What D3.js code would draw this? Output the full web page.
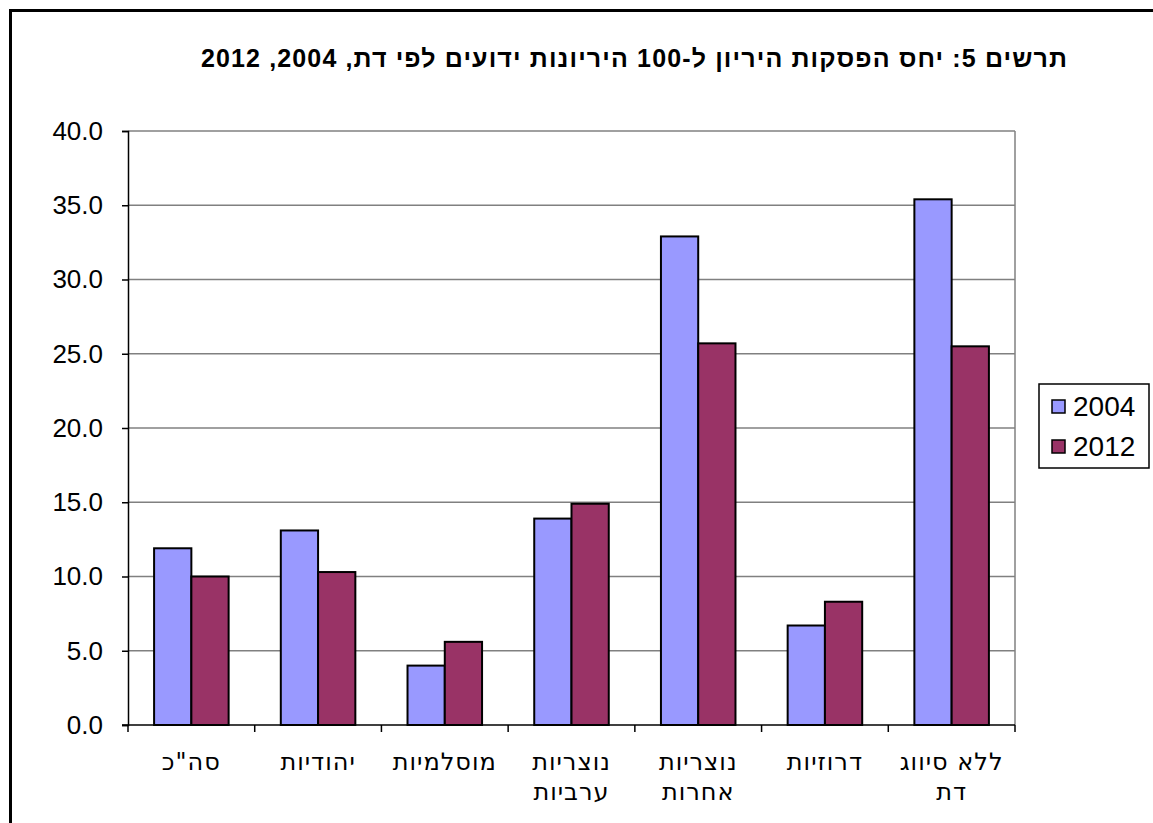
<!DOCTYPE html>
<html lang="he">
<head>
<meta charset="utf-8">
<script src="https://cdn.jsdelivr.net/npm/d3@7/dist/d3.min.js"></script>
<style>
  html, body { margin: 0; padding: 0; background: #fff; }
  svg { display: block; }
</style>
</head>
<body>
<svg id="chart" width="1153" height="823"></svg>
<script>
// נתונים: יחס הפסקות היריון ל-100 היריונות ידועים לפי דת
const CATEGORIES = [["סה\"כ"], ["יהודיות"], ["מוסלמיות"], ["נוצריות", "ערביות"], ["נוצריות", "אחרות"], ["דרוזיות"], ["ללא סיווג", "דת"]];
const SERIES = ["2004", "2012"];
const VALUES_2004 = [11.9, 13.1, 4.0, 13.9, 32.9, 6.7, 35.4];
const VALUES_2012 = [10.0, 10.3, 5.6, 14.9, 25.7, 8.3, 25.5];
const Y_TICKS = [0, 5, 10, 15, 20, 25, 30, 35, 40];
const COLORS = ["#9999FF", "#993366"];
const TITLE = "תרשים 5: יחס הפסקות היריון ל-100 היריונות ידועים לפי דת, 2004, 2012";

const svg = d3.select("#chart");
const W = 1153, H = 823;
const plot = { left: 128, right: 1015, top: 131, bottom: 725 };

// מסגרת חיצונית
svg.append("path")
  .attr("d", `M10.5,${H + 5} L10.5,10.5 L${W + 5},10.5`)
  .attr("fill", "none").attr("stroke", "#000").attr("stroke-width", 3);

// כותרת
svg.append("text")
  .attr("x", 634).attr("y", 67)
  .attr("text-anchor", "middle")
  .attr("direction", "rtl")
  .attr("font-family", "Liberation Sans, Arial, sans-serif")
  .attr("font-weight", "bold").attr("font-size", 25)
  .attr("textLength", 866).attr("lengthAdjust", "spacing")
  .text(TITLE);

const x = d3.scaleBand().domain(d3.range(CATEGORIES.length)).range([plot.left, plot.right]);
const xs = d3.scaleBand().domain(SERIES).range([0, x.bandwidth()]).paddingOuter(0.7);
const y = d3.scaleLinear().domain([0, 40]).range([plot.bottom, plot.top]);

// קווי רשת
svg.append("g").selectAll("line").data(Y_TICKS.slice(1)).join("line")
  .attr("x1", plot.left).attr("x2", plot.right)
  .attr("y1", d => y(d)).attr("y2", d => y(d))
  .attr("stroke", "#808080").attr("stroke-width", 1.5);
svg.append("line")
  .attr("x1", plot.right).attr("x2", plot.right)
  .attr("y1", plot.top).attr("y2", plot.bottom)
  .attr("stroke", "#808080").attr("stroke-width", 1.5);

// עמודות
const data = CATEGORIES.map((c, i) => ({ i, vals: [VALUES_2004[i], VALUES_2012[i]] }));
const groups = svg.append("g").selectAll("g").data(data).join("g")
  .attr("transform", d => `translate(${x(d.i)},0)`);
groups.selectAll("rect").data(d => d.vals.map((v, k) => ({ v, k }))).join("rect")
  .attr("x", d => xs(SERIES[d.k]))
  .attr("width", xs.bandwidth())
  .attr("y", d => y(d.v))
  .attr("height", d => y(0) - y(d.v))
  .attr("fill", d => COLORS[d.k])
  .attr("stroke", "#000").attr("stroke-width", 2);

// ציר Y
const yAxis = svg.append("g").attr("transform", `translate(${plot.left},0)`)
  .call(d3.axisLeft(y).tickValues(Y_TICKS).tickFormat(d3.format(".1f")).tickSize(6).tickPadding(19));
yAxis.select(".domain").attr("stroke", "#000").attr("stroke-width", 1.5);
yAxis.selectAll(".tick line").attr("stroke", "#000").attr("stroke-width", 1.5);
yAxis.selectAll(".tick text")
  .attr("font-family", "Liberation Sans, Arial, sans-serif")
  .attr("font-size", 26).attr("fill", "#000");

// ציר X
svg.append("line")
  .attr("x1", plot.left - 6).attr("x2", plot.right)
  .attr("y1", plot.bottom).attr("y2", plot.bottom)
  .attr("stroke", "#000").attr("stroke-width", 1.5);
svg.append("g").selectAll("line").data(d3.range(CATEGORIES.length + 1)).join("line")
  .attr("x1", d => plot.left + d * x.step()).attr("x2", d => plot.left + d * x.step())
  .attr("y1", plot.bottom).attr("y2", plot.bottom + 7)
  .attr("stroke", "#000").attr("stroke-width", 1.5);
const labels = svg.append("g").selectAll("text").data(CATEGORIES).join("text")
  .attr("x", (d, i) => x(i) + x.bandwidth() / 2)
  .attr("y", 770)
  .attr("text-anchor", "middle")
  .attr("direction", "rtl")
  .attr("font-family", "DejaVu Sans, sans-serif")
  .attr("font-size", 24).attr("letter-spacing", 1).attr("fill", "#000");
labels.selectAll("tspan").data(d => d).join("tspan")
  .attr("x", function () { return this.parentNode.getAttribute("x"); })
  .attr("dy", (d, j) => j === 0 ? 0 : 30)
  .text(d => d);

// מקרא
const lg = svg.append("g").attr("transform", "translate(1039,384)");
lg.append("rect").attr("width", 110).attr("height", 84)
  .attr("fill", "#fff").attr("stroke", "#000").attr("stroke-width", 1.5);
const li = lg.selectAll("g").data(SERIES).join("g")
  .attr("transform", (d, i) => `translate(13,${22 + i * 40})`);
li.append("rect").attr("x", 0).attr("y", -6).attr("width", 13).attr("height", 13)
  .attr("fill", (d, i) => COLORS[i]).attr("stroke", "#000").attr("stroke-width", 1.5);
li.append("text").attr("x", 21).attr("y", 10)
  .attr("font-family", "Liberation Sans, Arial, sans-serif")
  .attr("font-size", 28).attr("fill", "#000")
  .text(d => d);
</script>
</body>
</html>
